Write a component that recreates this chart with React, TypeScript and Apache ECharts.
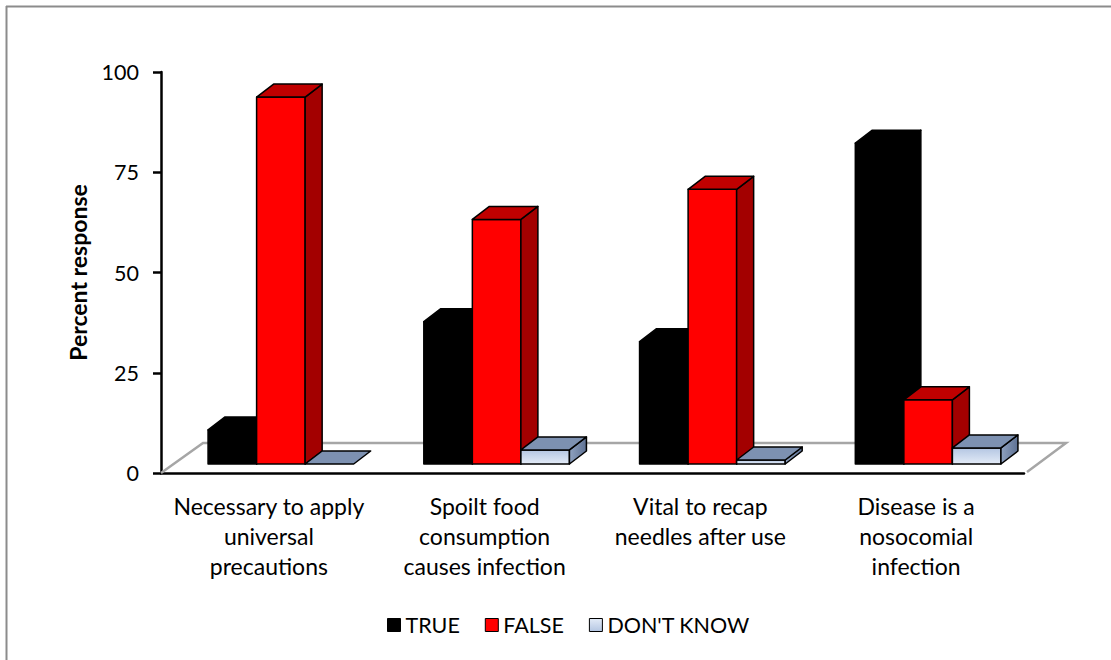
import React, { useEffect, useRef } from "react";
import * as echarts from "echarts";

// Survey statements (drawn as the category labels, one line per row)
const categories = [
  "Necessary to apply\nuniversal\nprecautions",
  "Spoilt food\nconsumption\ncauses infection",
  "Vital to recap\nneedles after use",
  "Disease is a\nnosocomial\ninfection",
];
const seriesNames = ["TRUE", "FALSE", "DON'T KNOW"];
const trueValues = [8.5, 35.5, 30.5, 80];
const falseValues = [91.5, 61, 68.5, 16];
const dontKnowValues = [0, 3.5, 1, 4];
const yTickStep = 25;
const yMax = 100;

const FONT = "Lato, 'Open Sans', sans-serif";

// Pseudo-3D geometry (pixels)
const BAR_FRACTION = 0.225; // share of a category band taken by one bar
const FLOOR_DX = 42;
const FLOOR_DY = -30;
const FRONT_DX = 12; // bars stand part-way back on the floor
const FRONT_DY = -9;
const DEPTH_DX = 17; // bar depth
const DEPTH_DY = -13;

const dkFront = () =>
  new echarts.graphic.LinearGradient(0, 0, 0, 1, [
    { offset: 0, color: "#B4C6E2" },
    { offset: 1, color: "#E3EBF7" },
  ]);
const dkSide = () =>
  new echarts.graphic.LinearGradient(0, 0, 1, 0, [
    { offset: 0, color: "#8FA2C0" },
    { offset: 1, color: "#5E7193" },
  ]);

const faceStyles = [
  { front: () => "#000000", top: "#000000", side: () => "#000000" },
  { front: () => "#FF0000", top: "#C00000", side: () => "#A30000" },
  { front: dkFront, top: "#7D91B1", side: dkSide },
];

const legendColors = [
  "#000000",
  "#FF0000",
  new echarts.graphic.LinearGradient(0, 0, 0, 1, [
    { offset: 0, color: "#E3EBF7" },
    { offset: 1, color: "#B4C6E2" },
  ]),
];

function barRenderer(j: number) {
  return (_params: any, api: any) => {
    const cat = api.value(0);
    const v = api.value(1);
    const base = api.coord([cat, 0]);
    const top = api.coord([cat, v]);
    const band = api.size([1, 0])[0];
    const w = band * BAR_FRACTION;
    const x0 = base[0] - 1.5 * w + j * w + FRONT_DX;
    const x1 = x0 + w;
    const yb = base[1] + FRONT_DY;
    const yt = top[1] + FRONT_DY;
    const f = faceStyles[j];
    const line = { stroke: "#000000", lineWidth: 1.5, lineJoin: "round" };
    const children: any[] = [];
    if (yb - yt > 0.3) {
      children.push({
        type: "polygon",
        shape: { points: [[x0, yt], [x1, yt], [x1, yb], [x0, yb]] },
        style: { fill: f.front(), ...line },
      });
      children.push({
        type: "polygon",
        shape: {
          points: [
            [x1, yt],
            [x1 + DEPTH_DX, yt + DEPTH_DY],
            [x1 + DEPTH_DX, yb + DEPTH_DY],
            [x1, yb],
          ],
        },
        style: { fill: f.side(), ...line },
      });
    }
    children.push({
      type: "polygon",
      shape: {
        points: [
          [x0, yt],
          [x0 + DEPTH_DX, yt + DEPTH_DY],
          [x1 + DEPTH_DX, yt + DEPTH_DY],
          [x1, yt],
        ],
      },
      style: { fill: f.top, ...line },
    });
    return { type: "group", children };
  };
}

function floorRenderer(_params: any, api: any) {
  const band = api.size([1, 0])[0];
  const l = api.coord([0, 0]);
  const r = api.coord([categories.length - 1, 0]);
  const xl = l[0] - band / 2;
  const xr = r[0] + band / 2;
  const y = l[1];
  return {
    type: "polyline",
    shape: {
      points: [
        [xl, y],
        [xl + FLOOR_DX, y + FLOOR_DY],
        [xr + FLOOR_DX, y + FLOOR_DY],
        [xr + 3, y - 1],
      ],
    },
    style: { stroke: "#A6A6A6", lineWidth: 2.5, fill: null },
  };
}

export default function App() {
  const ref = useRef<HTMLDivElement>(null);

  useEffect(() => {
    if (!ref.current) return;
    const chart = echarts.init(ref.current, null, { renderer: "svg" });
    const valueSets = [trueValues, falseValues, dontKnowValues];

    chart.setOption({
      animation: false,
      backgroundColor: "#FFFFFF",
      textStyle: { fontFamily: FONT },
      grid: { left: 161, right: 87, top: 72, bottom: 187 },
      graphic: [
        {
          type: "line",
          shape: { x1: 6, y1: 6.5, x2: 1111, y2: 6.5 },
          style: { stroke: "#8C8C8C", lineWidth: 2 },
        },
        {
          type: "line",
          shape: { x1: 6.5, y1: 6, x2: 6.5, y2: 660 },
          style: { stroke: "#8C8C8C", lineWidth: 2 },
        },
      ],
      legend: {
        left: 382,
        top: 609,
        itemWidth: 13,
        itemHeight: 13,
        itemGap: 25,
        textStyle: { fontFamily: FONT, fontSize: 21.5, color: "#000" },
        data: seriesNames.map((name, i) => ({
          name,
          icon: "rect",
          itemStyle: { color: legendColors[i], borderColor: "#000", borderWidth: 1 },
        })),
      },
      xAxis: {
        type: "category",
        data: categories,
        axisLine: { lineStyle: { color: "#000", width: 2.5 } },
        axisTick: { length: 9, lineStyle: { color: "#000", width: 2.5 } },
        axisLabel: {
          margin: 18,
          fontFamily: FONT,
          fontSize: 23,
          lineHeight: 30,
          color: "#000",
          interval: 0,
        },
      },
      yAxis: {
        type: "value",
        min: 0,
        max: yMax,
        interval: yTickStep,
        name: "Percent response",
        nameLocation: "middle",
        nameGap: 72,
        nameTextStyle: { fontFamily: FONT, fontSize: 23, fontWeight: "bold", color: "#000" },
        splitLine: { show: false },
        axisLine: { show: true, lineStyle: { color: "#000", width: 2.5 } },
        axisTick: { show: true, length: 8, lineStyle: { color: "#000", width: 2.5 } },
        axisLabel: { margin: 22, fontFamily: FONT, fontSize: 21.5, color: "#000" },
      },
      series: [
        {
          type: "custom",
          name: "floor",
          renderItem: floorRenderer,
          data: [[0, 0]],
          clip: false,
          silent: true,
          z: 1,
        },
        ...seriesNames.map((name, j) => ({
          type: "custom",
          name,
          renderItem: barRenderer(j),
          itemStyle: { color: legendColors[j] },
          data: valueSets[j].map((v, i) => [i, v]),
          clip: false,
          z: 2,
        })),
      ],
    });

    return () => chart.dispose();
  }, []);

  return (
    <div
      ref={ref}
      style={{ position: "fixed", left: 0, top: 0, width: 1111, height: 660, background: "#fff" }}
    />
  );
}
